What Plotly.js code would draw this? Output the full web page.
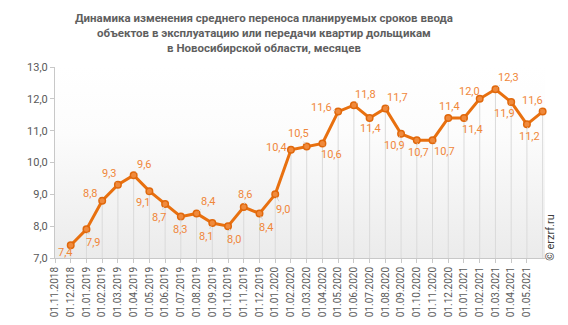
<!DOCTYPE html>
<html>
<head>
<meta charset="utf-8">
<script src="https://cdn.plot.ly/plotly-3.0.1.min.js"></script>
<style>
html,body{margin:0;padding:0;background:#fff;}
#chart{width:568px;height:325px;}
</style>
</head>
<body>
<div id="chart"></div>
<script>
// Tick labels along the x axis (months)
const tickLabels = [
  "01.11.2018","01.12.2018",
  "01.01.2019","01.02.2019","01.03.2019","01.04.2019","01.05.2019","01.06.2019",
  "01.07.2019","01.08.2019","01.09.2019","01.10.2019","01.11.2019","01.12.2019",
  "01.01.2020","01.02.2020","01.03.2020","01.04.2020","01.05.2020","01.06.2020",
  "01.07.2020","01.08.2020","01.09.2020","01.10.2020","01.11.2020","01.12.2020",
  "01.01.2021","01.02.2021","01.03.2021","01.04.2021","01.05.2021"
];
// Average postponement, months
const values = [
  7.4, 7.9, 8.8, 9.3, 9.6, 9.1, 8.7, 8.3, 8.4, 8.1, 8.0, 8.6, 8.4, 9.0,
  10.4, 10.5, 10.6, 11.6, 11.8, 11.4, 11.7, 10.9, 10.7, 10.7, 11.4, 11.4,
  12.0, 12.3, 11.9, 11.2, 11.6
];
// label placement (pixel offsets from the point)
const labelOffsets = [
  [-5,7],[7,13],[-12,-7],[-8,-11],[11,-11],[-6,11],[-6,14],[0,13],[12,-12],[-6,14],
  [6,13],[2,-13],[7,14],[8,15],[-14,-2],[-8,-13],[9,11],[-17,-4],[12,-11],[1,11],
  [12,-11],[-7,12],[2,12],[12,11],[1,-11],[9,12],[-10,-7],[13,-12],[-7,11],[3,12],
  [-10,-11]
];

const titleText = '<b>Динамика изменения среднего переноса планируемых сроков ввода<br>объектов в эксплуатацию или передачи квартир дольщикам<br>в Новосибирской области, месяцев</b>';

const yMin = 7, yMax = 13;
const tickIdx = tickLabels.map((_, i) => i);
const xs = values.map((_, i) => i + 1);

const fmt = v => v.toFixed(1).replace('.', ',');

const dropTrace = {
  x: xs, y: values, type: 'scatter', mode: 'markers',
  marker: {size: 1, opacity: 0},
  error_y: {type: 'data', symmetric: false, array: values.map(() => 0),
            arrayminus: values.map(v => v - yMin), color: '#dadada', thickness: 1, width: 0},
  hoverinfo: 'skip', showlegend: false
};
const lineTrace = {
  x: xs, y: values, type: 'scatter', mode: 'lines+markers',
  line: {color: '#E8700F', width: 3},
  marker: {size: 6.5, color: '#F08A3C', line: {color: '#E0680C', width: 1.5}},
  cliponaxis: false, showlegend: false
};

const annotations = values.map((v, i) => ({
  x: xs[i], y: v, xref: 'x', yref: 'y', text: fmt(v),
  showarrow: true, arrowhead: 0, arrowwidth: 1, arrowcolor: '#d4d4d4', standoff: 3,
  ax: labelOffsets[i][0], ay: labelOffsets[i][1],
  font: {family: 'Roboto, Arial, sans-serif', size: 11, color: '#F0873A'}
}));
annotations.push({
  xref: 'paper', yref: 'paper', x: 1.012, y: 0.11, xanchor: 'center', yanchor: 'middle',
  text: '© erzrf.ru', showarrow: false, textangle: -90,
  font: {family: 'Roboto, Arial, sans-serif', size: 11, color: '#404040'}
});
annotations.push({
  xref: 'paper', yref: 'paper', x: 0.4265, y: 1 + 58 / 191, xanchor: 'center', yanchor: 'top',
  text: titleText, showarrow: false, align: 'center',
  font: {family: 'Roboto, Arial, sans-serif', size: 11.5, color: '#5f5f5f'}
});

const layout = {
  width: 568, height: 325,
  margin: {l: 55, r: 23, t: 67, b: 67},
  paper_bgcolor: '#ffffff', plot_bgcolor: '#f6f6f6',
  separators: ',.',
  font: {family: 'Roboto, Arial, sans-serif', color: '#595959'},
  xaxis: {
    range: [0, 31.15], tickmode: 'array', tickvals: tickIdx, ticktext: tickLabels,
    tickangle: -90, tickfont: {size: 10, color: '#595959'},
    showgrid: false, zeroline: false, showline: true, linecolor: '#c8c8c8', linewidth: 1,
    ticks: 'outside', ticklen: 4, tickcolor: '#c8c8c8'
  },
  yaxis: {
    range: [yMin, yMax], dtick: 1, tickformat: '.1f',
    tickfont: {size: 11, color: '#595959'},
    showgrid: false, zeroline: false, showline: true, linecolor: '#c8c8c8', linewidth: 1,
    ticks: 'outside', ticklen: 4, tickcolor: '#c8c8c8'
  },
  annotations: annotations
};

function applyGradient(gd) {
  const svg = gd.querySelector('svg.main-svg');
  if (!svg) return;
  const ns = 'http://www.w3.org/2000/svg';
  let defs = svg.querySelector('defs');
  if (!defs) { defs = document.createElementNS(ns, 'defs'); svg.insertBefore(defs, svg.firstChild); }
  const grad = document.createElementNS(ns, 'linearGradient');
  grad.setAttribute('id', 'plotBgGrad');
  grad.setAttribute('x1', '0'); grad.setAttribute('y1', '0');
  grad.setAttribute('x2', '0'); grad.setAttribute('y2', '1');
  [['0', '#ffffff'], ['0.35', '#fcfcfc'], ['1', '#ebebeb']].forEach(([o, c]) => {
    const s = document.createElementNS(ns, 'stop');
    s.setAttribute('offset', o); s.setAttribute('stop-color', c);
    grad.appendChild(s);
  });
  defs.appendChild(grad);
  gd.querySelectorAll('rect.bg').forEach(r => { r.style.fill = 'url(#plotBgGrad)'; });
}

Plotly.newPlot('chart', [dropTrace, lineTrace], layout, {staticPlot: true, displayModeBar: false})
  .then(applyGradient);
</script>
</body>
</html>
